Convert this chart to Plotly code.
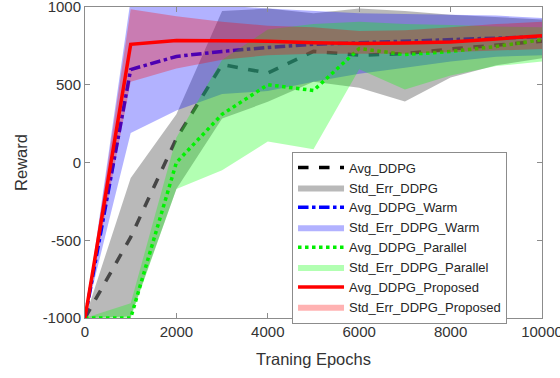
import plotly.graph_objects as go

epochs = [0, 1000, 2000, 3000, 4000, 5000, 6000, 7000, 8000, 9000, 10000]

avg_ddpg = [-1000, -480, 155, 630, 575, 715, 690, 700, 730, 755, 780]
std_ddpg_lo = [-1000, -990, -170, 283, 390, 520, 480, 392, 547, 625, 670]
std_ddpg_hi = [-1000, -100, 310, 975, 990, 960, 990, 975, 950, 935, 920]

avg_warm = [-1000, 598, 682, 714, 740, 760, 770, 780, 790, 800, 810]
std_warm_lo = [-1000, 190, 334, 440, 460, 520, 570, 610, 650, 680, 690]
std_warm_hi = [-1000, 1050, 1050, 1010, 990, 975, 960, 955, 950, 945, 930]

avg_par = [-1000, -1000, 0, 310, 500, 463, 733, 694, 714, 746, 790]
std_par_lo = [-1000, -1000, -170, -50, 135, 85, 600, 470, 560, 620, 650]
std_par_hi = [-1000, -905, 160, 660, 855, 890, 905, 890, 885, 875, 870]

avg_prop = [-1000, 760, 785, 785, 780, 770, 765, 768, 775, 795, 815]
std_prop_lo = [-1000, 520, 605, 660, 690, 700, 700, 700, 710, 720, 730]
std_prop_hi = [-1000, 985, 940, 905, 880, 870, 845, 850, 870, 890, 905]

x_ticks = [0, 2000, 4000, 6000, 8000, 10000]
y_ticks = [-1000, -500, 0, 500, 1000]

series = [
    ("Avg_DDPG", avg_ddpg, "black", "dash", "Std_Err_DDPG", std_ddpg_lo, std_ddpg_hi, "rgba(128,128,128,0.55)"),
    ("Avg_DDPG_Warm", avg_warm, "blue", "dashdot", "Std_Err_DDPG_Warm", std_warm_lo, std_warm_hi, "rgba(0,0,255,0.3)"),
    ("Avg_DDPG_Parallel", avg_par, "#00ee00", "dot", "Std_Err_DDPG_Parallel", std_par_lo, std_par_hi, "rgba(0,255,0,0.3)"),
    ("Avg_DDPG_Proposed", avg_prop, "red", "solid", "Std_Err_DDPG_Proposed", std_prop_lo, std_prop_hi, "rgba(255,0,0,0.3)"),
]

FONT = "Arial"

fig = go.Figure()
for name, avg, col, dash, bname, lo, hi, fcol in series:
    fig.add_trace(go.Scatter(x=epochs, y=avg, mode="lines", name=name,
                             line=dict(color=col, width=3.5, dash=dash)))
    fig.add_trace(go.Scatter(x=epochs + epochs[::-1], y=hi + lo[::-1], mode="lines",
                             fill="toself", fillcolor=fcol, line=dict(width=0),
                             name=bname))

axis_common = dict(showline=True, linecolor="#8c8c8c", linewidth=1, mirror="ticks",
                   ticks="inside", ticklen=5, tickcolor="#8c8c8c", showgrid=False,
                   zeroline=False, ticklabeloverflow="allow", automargin=False,
                   tickfont=dict(family=FONT, size=15, color="#333333"))

fig.update_layout(
    width=560, height=378,
    margin=dict(l=85, r=18, t=7, b=60),
    paper_bgcolor="white", plot_bgcolor="white",
    font=dict(family=FONT, color="#333333"),
    xaxis=dict(range=[0, 10000], tickvals=x_ticks, ticktext=[str(v) for v in x_ticks],
               title=dict(text="Traning Epochs", font=dict(family=FONT, size=16.5), standoff=14),
               **axis_common),
    yaxis=dict(range=[-1000, 1000], tickvals=y_ticks, ticktext=[str(v) for v in y_ticks],
               title=dict(text="Reward", font=dict(family=FONT, size=16.5), standoff=10),
               **axis_common),
    legend=dict(x=0.453, y=0.535, xanchor="left", yanchor="top", bgcolor="white",
                bordercolor="#8c8c8c", borderwidth=1,
                font=dict(family=FONT, size=13, color="#262626"),
                tracegroupgap=0, itemwidth=46),
    showlegend=True,
)

fig.write_html("out.html", config={"displayModeBar": False},
               post_script="document.body.style.margin='0';")
